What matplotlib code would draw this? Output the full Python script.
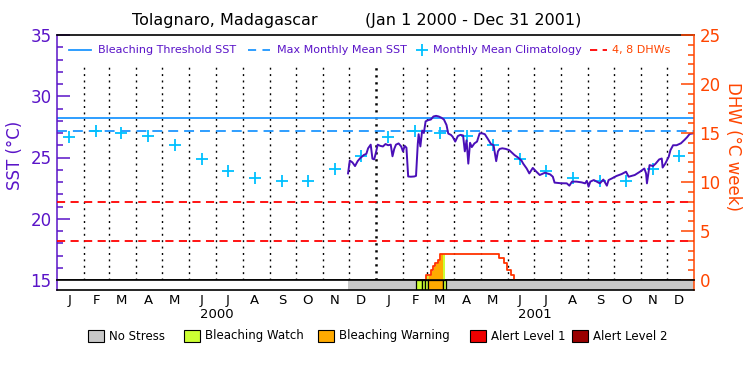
import numpy as np
import matplotlib
matplotlib.use('Agg')
import matplotlib.pyplot as plt
from matplotlib.lines import Line2D
from matplotlib.patches import Rectangle
from matplotlib.ticker import MultipleLocator

# ---------------- data ----------------
title_place = "Tolagnaro, Madagascar"
title_range = "(Jan 1 2000 - Dec 31 2001)"
year_labels = ["2000", "2001"]
month_letters = ["J", "F", "M", "A", "M", "J", "J", "A", "S", "O", "N", "D"]

# SST observations: day index since 2000-01-01, value in deg C
sst_day = [334, 336, 339, 342, 345, 348, 352, 355, 357, 360, 362, 364, 366, 368, 371, 374,
           377, 380, 383, 385, 387, 389, 392, 395, 397, 399, 401, 403, 406, 410, 412, 414,
           415, 417, 419, 421, 423, 426, 429, 432, 435, 438, 441, 444, 447, 449, 452, 454,
           457, 460, 463, 466, 468, 470, 472, 474, 476, 479, 482, 485, 488, 491, 495, 498,
           501, 504, 506, 508, 511, 515, 519, 522, 525, 529, 533, 535, 539, 542, 546, 550,
           554, 560, 566, 569, 571, 578, 585, 588, 591, 596, 602, 606, 608, 610, 612, 616,
           623, 627, 631, 633, 637, 642, 648, 653, 656, 663, 669, 674, 676, 677, 680, 684,
           687, 691, 694, 695, 698, 702, 704, 707, 711, 716, 720, 723, 726, 730]
sst_val = [23.70, 24.75, 24.60, 24.30, 24.70, 24.95, 25.20, 25.30, 25.75, 26.05, 24.90, 24.85,
           25.40, 26.05, 25.95, 25.90, 26.10, 26.00, 26.05, 25.10, 25.70, 26.05, 26.15, 25.90,
           25.50, 25.95, 25.80, 23.45, 23.43, 23.45, 23.50, 26.10, 26.90, 25.90, 27.20, 27.00,
           27.95, 28.05, 28.10, 28.35, 28.40, 28.35, 28.25, 28.10, 27.65, 26.95, 26.85, 26.70,
           26.30, 26.75, 26.85, 26.80, 25.50, 26.40, 24.50, 26.20, 25.85, 26.15, 26.30, 26.97,
           26.97, 26.90, 26.45, 26.10, 26.00, 24.70, 25.50, 25.70, 25.75, 25.70, 25.60, 25.40,
           25.20, 25.00, 24.75, 24.50, 24.10, 23.70, 24.15, 23.85, 23.57, 23.76, 23.62, 23.43,
           22.95, 22.90, 22.89, 22.70, 23.03, 23.03, 22.97, 22.89, 23.10, 22.62, 23.03, 23.16,
           22.89, 23.20, 22.70, 23.16, 23.30, 23.49, 23.65, 23.84, 23.43, 23.57, 23.84, 24.10,
           23.70, 22.89, 24.38, 24.30, 24.50, 24.84, 24.92, 24.18, 24.50, 25.06, 25.60, 26.00,
           26.00, 26.16, 26.43, 26.65, 26.92, 26.97]

# Monthly mean climatology (Jan..Dec), deg C
clim_val = [26.65, 27.14, 26.97, 26.76, 26.02, 24.85, 23.87, 23.35, 23.05, 23.05, 24.03, 25.15]
mmm_sst = 27.2
bleach_threshold = 28.2
dhw_ref_levels = [4, 8]

# Degree heating weeks (step series)
dhw_day = [423, 423, 429, 432, 434, 437, 440, 507, 513, 516, 521, 524]
dhw_val = [0.0, 0.5, 1.0, 1.4, 1.7, 2.05, 2.7, 2.2, 1.7, 1.0, 0.5, 0.0]

# Stress level periods (0 no stress, 1 watch, 2 warning, 3 alert 1, 4 alert 2)
data_start_day = 334
data_end_day = 731
stress_start = [412.5, 418.5, 422.5, 426.0, 443.3]
stress_end = [418.5, 422.5, 426.0, 443.3, 446.0]
stress_level = [1, 1, 1, 2, 1]
# DHW fill colouring
fill_start = [423.0, 425.5, 443.3]
fill_end = [425.5, 443.3, 445.3]
fill_level = [1, 2, 1]

stress_names = ["No Stress", "Bleaching Watch", "Bleaching Warning", "Alert Level 1", "Alert Level 2"]
stress_colors = ["#C8C8C8", "#CCFF33", "#FFAA00", "#EE0000", "#990000"]

# ---------------- style ----------------
purple = "#5a14c8"
line_purple = "#4a0fb8"
orange = "#FF4500"
red = "#FF0000"
blue = "#1E96FF"
cyan = "#00C0FF"

W, H = 750, 375
fig = plt.figure(figsize=(7.5, 3.75), dpi=100)
plt.rcParams['font.family'] = ['DejaVu Sans']

def fx(px):
    return px / W

def fy(py):
    return 1 - py / H

L, R, T, B, SB = 57, 694, 35, 280, 290
ax = fig.add_axes([fx(L), fy(B), (R - L) / W, (B - T) / H])
ax2 = ax.twinx()
axs = fig.add_axes([fx(L), fy(SB), (R - L) / W, (SB - B) / H])

start = np.datetime64('2000-01-01')
months = np.arange(np.datetime64('2000-01'), np.datetime64('2002-02'), dtype='datetime64[M]')
month_start_day = (months.astype('datetime64[D]') - start).astype(int)
mid_day = month_start_day[:-1] + 14
total_days = month_start_day[-1]

for a in (ax, ax2, axs):
    a.set_xlim(0, total_days)
ax.set_ylim(15, 35)
ax2.set_ylim(0, 25)

# vertical dotted month lines
for i, d in enumerate(month_start_day[1:-1]):
    if (i + 1) % 12 == 0:
        ax.plot([d, d], [15, 32.55], color='black', lw=1.8, linestyle=(0, (0.9, 1.9)), zorder=1)
    else:
        ax.plot([d, d], [15, 32.55], color='black', lw=1.0, linestyle=(0, (1.4, 3.2)), zorder=1)

# reference lines
ax.axhline(bleach_threshold, color=blue, lw=1.3, zorder=2)
ax.axhline(mmm_sst, color=blue, lw=1.3, linestyle=(0, (5.5, 3.3)), zorder=2)
for lv in dhw_ref_levels:
    ax2.axhline(lv, color=red, lw=1.3, linestyle=(0, (4.5, 3.0)), zorder=2)

# climatology pluses for both years
clim_x = mid_day
clim_y = clim_val * 2
ax.plot(clim_x, clim_y, linestyle='none', marker='+', markersize=9, mew=1.3, color=cyan, zorder=3)

# SST line
ax.plot(sst_day, sst_val, color=line_purple, lw=1.4, zorder=4)

# DHW fill and line
dd = np.array(dhw_day, dtype=float)
dv = np.array(dhw_val)
for s, e, lvl in zip(fill_start, fill_end, fill_level):
    xs = np.linspace(s, e, 200)
    idx = np.searchsorted(dd, xs, side='right') - 1
    ys = dv[np.clip(idx, 0, len(dv) - 1)]
    ax2.fill_between(xs, 0, ys, color=stress_colors[lvl], lw=0, zorder=2.5)
ax2.plot(dhw_day, dhw_val, drawstyle='steps-post', color="#FF3300", lw=1.3, zorder=5)

# stress bar
axs.add_patch(Rectangle((data_start_day, 0), data_end_day - data_start_day, 1,
                        facecolor=stress_colors[0], edgecolor='none'))
for s, e, lvl in zip(stress_start, stress_end, stress_level):
    axs.add_patch(Rectangle((s, 0), e - s, 1, facecolor=stress_colors[lvl],
                            edgecolor='black', lw=0.9))
axs.set_ylim(0, 1)
axs.set_yticks([])
axs.set_xticks(mid_day)
axs.set_xticklabels(month_letters * 2, fontsize=9.5)
axs.tick_params(axis='x', length=0, pad=3)

# spines
for sp in ('top', 'bottom'):
    ax.spines[sp].set_color('black')
    ax.spines[sp].set_linewidth(1.2)
    axs.spines[sp].set_color('black')
    axs.spines[sp].set_linewidth(1.2)
ax.spines['left'].set_color(purple)
ax.spines['left'].set_linewidth(1.1)
axs.spines['left'].set_color(purple)
axs.spines['left'].set_linewidth(1.1)
ax.spines['right'].set_visible(False)
axs.spines['right'].set_color(orange)
axs.spines['right'].set_linewidth(1.1)
for sp in ('left', 'top', 'bottom'):
    ax2.spines[sp].set_visible(False)
ax2.spines['right'].set_color(orange)
ax2.spines['right'].set_linewidth(1.1)

ax.set_xticks([])
ax2.set_xticks([])
ax.yaxis.set_major_locator(MultipleLocator(5))
ax.yaxis.set_minor_locator(MultipleLocator(1))
ax.tick_params(axis='y', which='major', direction='in', length=9.4, width=1.1,
               color=purple, labelcolor=purple, labelsize=12, pad=4)
ax.tick_params(axis='y', which='minor', direction='in', length=4.3, width=1.1, color=purple)
ax2.yaxis.set_major_locator(MultipleLocator(5))
ax2.yaxis.set_minor_locator(MultipleLocator(1))
ax2.tick_params(axis='y', which='major', direction='in', length=9.4, width=1.1,
                color=orange, labelcolor=orange, labelsize=12, pad=4)
ax2.tick_params(axis='y', which='minor', direction='in', length=4.3, width=1.1, color=orange)

# axis labels
fig.text(fx(15), fy(155), "SST (°C)", color=purple, fontsize=12, rotation=90, ha='center', va='center')
fig.text(fx(733), fy(146), "DHW (°C week)", color=orange, fontsize=12, rotation=-90, ha='center', va='center')

# title
fig.text(fx(132), fy(20), title_place, fontsize=11.5, ha='left', va='center')
fig.text(fx(365), fy(20), title_range, fontsize=11.5, ha='left', va='center')

# year labels
for i, yl in enumerate(year_labels):
    xc = (month_start_day[12 * i] + month_start_day[12 * (i + 1)]) / 2
    xp = L + (R - L) * xc / total_days
    fig.text(fx(xp), fy(315), yl, fontsize=9.5, ha='center', va='center')

# top legend
ly = fy(50)
fig.add_artist(Line2D([fx(69), fx(91)], [ly, ly], color=blue, lw=1.3))
fig.text(fx(98), ly, "Bleaching Threshold SST", color=purple, fontsize=8, ha='left', va='center')
fig.add_artist(Line2D([fx(248), fx(270)], [ly, ly], color=blue, lw=1.3, linestyle=(0, (4.5, 3.5))))
fig.text(fx(277), ly, "Max Monthly Mean SST", color=purple, fontsize=8, ha='left', va='center')
fig.add_artist(Line2D([fx(422)], [ly], color=cyan, marker='+', markersize=8, mew=1.3, linestyle='none'))
fig.text(fx(433), ly, "Monthly Mean Climatology", color=purple, fontsize=8, ha='left', va='center')
fig.add_artist(Line2D([fx(590), fx(607)], [ly, ly], color=red, lw=1.3, linestyle=(0, (4.0, 3.0))))
fig.text(fx(612), ly, "4, 8 DHWs", color=orange, fontsize=8, ha='left', va='center')

# bottom legend
box_x = [88, 184, 318, 470, 572]
by = 336
for bx, name, col in zip(box_x, stress_names, stress_colors):
    fig.add_artist(Rectangle((fx(bx), fy(by + 6)), 16 / W, 12 / H, facecolor=col,
                             edgecolor='black', lw=0.8, transform=fig.transFigure))
    fig.text(fx(bx + 21), fy(by), name, fontsize=8.5, ha='left', va='center')

fig.savefig("out.png", dpi=100)
